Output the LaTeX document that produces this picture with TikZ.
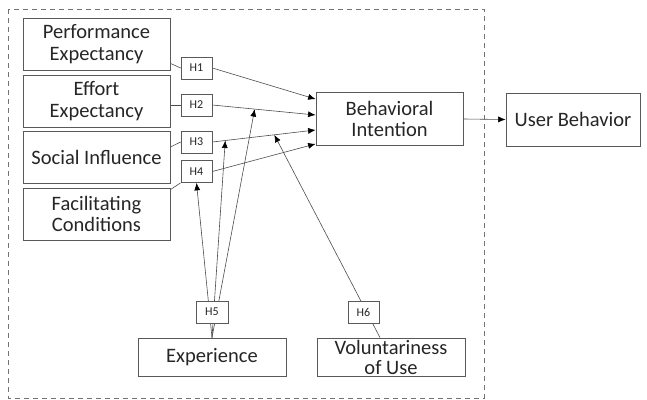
\documentclass[tikz,border=0pt]{standalone}
\usepackage{fontspec}
\setmainfont{Carlito}
\usetikzlibrary{arrows.meta,calc,backgrounds}
\begin{document}
\begin{tikzpicture}[x=1pt,y=-1pt,
  box/.style={draw=black!65,line width=0.8pt,fill=white,align=center,inner sep=0pt,
    font=\fontsize{20.5}{21.5}\selectfont,text=black!85},
  hbox/.style={draw=black!65,line width=0.7pt,fill=white,minimum width=31pt,minimum height=22pt,inner sep=0pt,
    font=\fontsize{12}{13}\selectfont,text=black!85},
  conn/.style={draw=black!70,line width=0.6pt},
  arr/.style={conn,-{Latex[length=7.5pt,width=6pt,color=black]}}]
\useasboundingbox (0,0) rectangle (647,399);
\draw[black!55,line width=0.8pt,dash pattern=on 5pt off 4pt] (8,9) rectangle (484,398);
% left boxes
\node[box,minimum width=147pt,minimum height=52pt] (PE) at (96.5,44) {Performance\\Expectancy};
\node[box,minimum width=147pt,minimum height=52pt] (EE) at (96.5,101) {Effort\\Expectancy};
\node[box,minimum width=147pt,minimum height=52pt] (SI) at (96.5,157) {Social Influence};
\node[box,minimum width=147pt,minimum height=52pt] (FC) at (96.5,214) {Facilitating\\Conditions};
% hypothesis boxes
\node[hbox] (H1) at (196.5,68) {H1};
\node[hbox] (H2) at (196.5,105) {H2};
\node[hbox] (H3) at (196.5,142) {H3};
\node[hbox] (H4) at (196.5,171.5) {H4};
\node[box,minimum width=147pt,minimum height=53pt] (BI) at (389.5,119) {Behavioral\\Intention};
\node[box,minimum width=134pt,minimum height=53pt] (UB) at (573,119.5) {User Behavior};
\node[box,minimum width=148pt,minimum height=38pt] (EX) at (212,357) {Experience};
\node[box,minimum width=148pt,minimum height=38pt,font=\fontsize{20.5}{20}\selectfont] (VO) at (391,357) {Voluntariness\\of Use};
\node[hbox,minimum width=32pt] (H5) at (212,312) {H5};
\node[hbox] (H6) at (363.5,312) {H6};
% target points
\coordinate (b1) at ([yshift=-7pt]BI.north west);
\coordinate (b2) at ([yshift=4pt]BI.west);
\coordinate (b3) at ([yshift=-11pt]BI.west);
\coordinate (b4) at ([yshift=2pt]BI.south west);
\coordinate (c2) at ($(H2.east)!0.41!(b2)$);
\coordinate (c3) at ($(H3.east)!0.125!(b3)$);
\coordinate (c6) at ($(H3.east)!0.6!(b3)$);
\begin{scope}[on background layer]
\draw[conn] ([yshift=7pt]PE.south east) -- (H1.west);
\draw[conn] (H2.west) -- (H2.west -| EE.east);
\draw[conn] ([yshift=10pt]SI.east) -- (H3.west);
\draw[conn] ([yshift=-2pt]FC.north east) -- (H4.south west);
\draw[arr] (H1.east) -- (b1);
\draw[arr] (H2.east) -- (b2);
\draw[arr] (H3.east) -- (b3);
\draw[arr] (H4.east) -- (b4);
\draw[arr] (BI.east) -- (UB.west);
\draw[arr] (EX.north) -- (H4.south);
\draw[arr] (EX.north) -- (c3);
\draw[arr] (EX.north) -- (c2);
\draw[arr] ([xshift=-11pt]VO.north) -- (c6);
\end{scope}
\end{tikzpicture}
\end{document}
